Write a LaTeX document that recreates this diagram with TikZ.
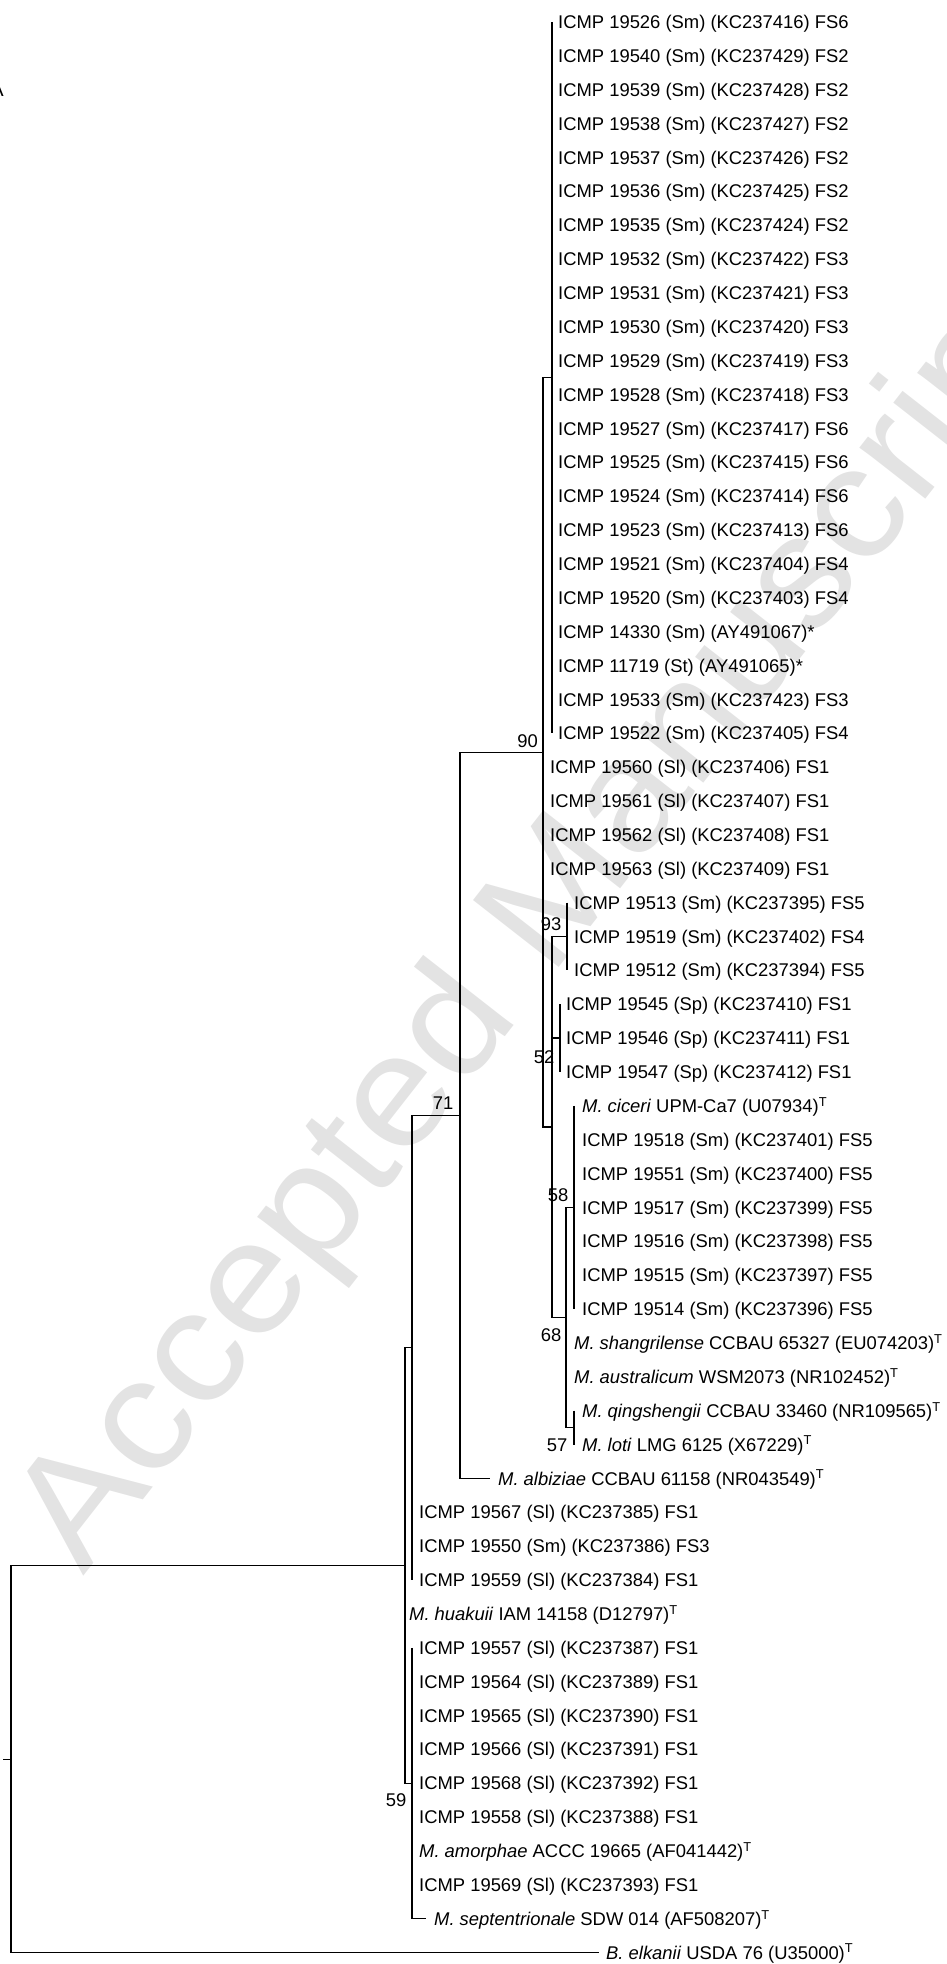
\documentclass[tikz,border=0pt]{standalone}
\usepackage{fontspec}
\setmainfont{Liberation Sans}
\usepackage{tikz}
\newcommand{\lblsize}{\fontsize{18.4}{22}\selectfont}
\newcommand{\spname}[1]{\textit{#1}}
\tikzset{
  leaflabel/.style={anchor=west, inner sep=0pt, text height=13.2pt, text depth=0pt, font=\lblsize},
  bootval/.style={inner sep=0pt, font=\lblsize},
  branchline/.style={black, line width=1.25pt},
}

\begin{document}
\begin{tikzpicture}[x=1pt,y=-33.87pt]
\useasboundingbox (0,0.3505) rectangle (947,58.337);
% watermark
\node[rotate=52, anchor=base west, inner sep=0pt, text=black!11, font=\fontsize{158}{158}\selectfont] (wm) at (83,46.91) {\scalebox{1.08}[1]{Accepted Manuscript}};
\node[anchor=east, inner sep=0pt, font=\fontsize{20}{24}\selectfont] (panel) at (4,3.0) {A};
% tip labels
\node[leaflabel] (l1) at (558,1) {ICMP 19526 (Sm) (KC237416) FS6};
\node[leaflabel] (l2) at (558,2) {ICMP 19540 (Sm) (KC237429) FS2};
\node[leaflabel] (l3) at (558,3) {ICMP 19539 (Sm) (KC237428) FS2};
\node[leaflabel] (l4) at (558,4) {ICMP 19538 (Sm) (KC237427) FS2};
\node[leaflabel] (l5) at (558,5) {ICMP 19537 (Sm) (KC237426) FS2};
\node[leaflabel] (l6) at (558,6) {ICMP 19536 (Sm) (KC237425) FS2};
\node[leaflabel] (l7) at (558,7) {ICMP 19535 (Sm) (KC237424) FS2};
\node[leaflabel] (l8) at (558,8) {ICMP 19532 (Sm) (KC237422) FS3};
\node[leaflabel] (l9) at (558,9) {ICMP 19531 (Sm) (KC237421) FS3};
\node[leaflabel] (l10) at (558,10) {ICMP 19530 (Sm) (KC237420) FS3};
\node[leaflabel] (l11) at (558,11) {ICMP 19529 (Sm) (KC237419) FS3};
\node[leaflabel] (l12) at (558,12) {ICMP 19528 (Sm) (KC237418) FS3};
\node[leaflabel] (l13) at (558,13) {ICMP 19527 (Sm) (KC237417) FS6};
\node[leaflabel] (l14) at (558,14) {ICMP 19525 (Sm) (KC237415) FS6};
\node[leaflabel] (l15) at (558,15) {ICMP 19524 (Sm) (KC237414) FS6};
\node[leaflabel] (l16) at (558,16) {ICMP 19523 (Sm) (KC237413) FS6};
\node[leaflabel] (l17) at (558,17) {ICMP 19521 (Sm) (KC237404) FS4};
\node[leaflabel] (l18) at (558,18) {ICMP 19520 (Sm) (KC237403) FS4};
\node[leaflabel] (l19) at (558,19) {ICMP 14330 (Sm) (AY491067)*};
\node[leaflabel] (l20) at (558,20) {ICMP 11719 (St) (AY491065)*};
\node[leaflabel] (l21) at (558,21) {ICMP 19533 (Sm) (KC237423) FS3};
\node[leaflabel] (l22) at (558,22) {ICMP 19522 (Sm) (KC237405) FS4};
\node[leaflabel] (l23) at (550,23) {ICMP 19560 (Sl) (KC237406) FS1};
\node[leaflabel] (l24) at (550,24) {ICMP 19561 (Sl) (KC237407) FS1};
\node[leaflabel] (l25) at (550,25) {ICMP 19562 (Sl) (KC237408) FS1};
\node[leaflabel] (l26) at (550,26) {ICMP 19563 (Sl) (KC237409) FS1};
\node[leaflabel] (l27) at (574,27) {ICMP 19513 (Sm) (KC237395) FS5};
\node[leaflabel] (l28) at (574,28) {ICMP 19519 (Sm) (KC237402) FS4};
\node[leaflabel] (l29) at (574,29) {ICMP 19512 (Sm) (KC237394) FS5};
\node[leaflabel] (l30) at (566,30) {ICMP 19545 (Sp) (KC237410) FS1};
\node[leaflabel] (l31) at (566,31) {ICMP 19546 (Sp) (KC237411) FS1};
\node[leaflabel] (l32) at (566,32) {ICMP 19547 (Sp) (KC237412) FS1};
\node[leaflabel] (l33) at (582,33) {\spname{M. ciceri} UPM-Ca7 (U07934)\textsuperscript{T}};
\node[leaflabel] (l34) at (582,34) {ICMP 19518 (Sm) (KC237401) FS5};
\node[leaflabel] (l35) at (582,35) {ICMP 19551 (Sm) (KC237400) FS5};
\node[leaflabel] (l36) at (582,36) {ICMP 19517 (Sm) (KC237399) FS5};
\node[leaflabel] (l37) at (582,37) {ICMP 19516 (Sm) (KC237398) FS5};
\node[leaflabel] (l38) at (582,38) {ICMP 19515 (Sm) (KC237397) FS5};
\node[leaflabel] (l39) at (582,39) {ICMP 19514 (Sm) (KC237396) FS5};
\node[leaflabel] (l40) at (574,40) {\spname{M. shangrilense} CCBAU 65327 (EU074203)\textsuperscript{T}};
\node[leaflabel] (l41) at (574,41) {\spname{M. australicum} WSM2073 (NR102452)\textsuperscript{T}};
\node[leaflabel] (l42) at (582,42) {\spname{M. qingshengii} CCBAU 33460 (NR109565)\textsuperscript{T}};
\node[leaflabel] (l43) at (582,43) {\spname{M. loti} LMG 6125 (X67229)\textsuperscript{T}};
\node[leaflabel] (l44) at (498,44) {\spname{M. albiziae} CCBAU 61158 (NR043549)\textsuperscript{T}};
\node[leaflabel] (l45) at (419,45) {ICMP 19567 (Sl) (KC237385) FS1};
\node[leaflabel] (l46) at (419,46) {ICMP 19550 (Sm) (KC237386) FS3};
\node[leaflabel] (l47) at (419,47) {ICMP 19559 (Sl) (KC237384) FS1};
\node[leaflabel] (l48) at (409,48) {\spname{M. huakuii} IAM 14158 (D12797)\textsuperscript{T}};
\node[leaflabel] (l49) at (419,49) {ICMP 19557 (Sl) (KC237387) FS1};
\node[leaflabel] (l50) at (419,50) {ICMP 19564 (Sl) (KC237389) FS1};
\node[leaflabel] (l51) at (419,51) {ICMP 19565 (Sl) (KC237390) FS1};
\node[leaflabel] (l52) at (419,52) {ICMP 19566 (Sl) (KC237391) FS1};
\node[leaflabel] (l53) at (419,53) {ICMP 19568 (Sl) (KC237392) FS1};
\node[leaflabel] (l54) at (419,54) {ICMP 19558 (Sl) (KC237388) FS1};
\node[leaflabel] (l55) at (419,55) {\spname{M. amorphae} ACCC 19665 (AF041442)\textsuperscript{T}};
\node[leaflabel] (l56) at (419,56) {ICMP 19569 (Sl) (KC237393) FS1};
\node[leaflabel] (l57) at (434,57) {\spname{M. septentrionale} SDW 014 (AF508207)\textsuperscript{T}};
\node[leaflabel] (l58) at (606,58) {\spname{B. elkanii} USDA 76 (U35000)\textsuperscript{T}};
% internal nodes
\coordinate (rt) at (11,52.29);
\coordinate (stub) at (3,52.29);
\coordinate (ing) at (405,46.57);
\coordinate (q) at (412,40.14);
\coordinate (n59) at (412,53);
\coordinate (n71) at (460,33.28);
\coordinate (n90) at (543,22.5625);
\coordinate (top) at (552,11.5);
\coordinate (p) at (552,33.625);
\coordinate (n93) at (567,28);
\coordinate (n52) at (560,31);
\coordinate (n68) at (566,39.25);
\coordinate (n58) at (574,36);
\coordinate (n57) at (574,42.5);
\coordinate (alb) at (490,44);
\coordinate (sep) at (426,57);
\coordinate (elk) at (599,58);
% branches
\draw[branchline] (stub) -- (rt);
\draw[branchline] (rt) |- (ing);
\draw[branchline] (rt) |- (elk);
\draw[branchline] (ing) |- (q);
\draw[branchline] (ing) |- (n59);
\draw[branchline] (q) |- (n71);
\draw[branchline] (q) -- (q |- l47.west);
\draw[branchline] (n59 |- l49.west) |- (sep);
\draw[branchline] (n71) |- (n90);
\draw[branchline] (n71) |- (alb);
\draw[branchline] (n90) |- (top);
\draw[branchline] (n90) |- (p);
\draw[branchline] (top |- l1.west) -- (top |- l22.west);
\draw[branchline] (p) |- (n93);
\draw[branchline] (p) |- (n52);
\draw[branchline] (p) |- (n68);
\draw[branchline] (n93 |- l27.west) -- (n93 |- l29.west);
\draw[branchline] (n52 |- l30.west) -- (n52 |- l32.west);
\draw[branchline] (n68) |- (n58);
\draw[branchline] (n68) |- (n57);
\draw[branchline] (n58 |- l33.west) -- (n58 |- l39.west);
\draw[branchline] (n57 |- l42.west) -- (n57 |- l43.west);
% bootstrap values
\node[bootval] (b90) at (527.5,22.23) {90};
\node[bootval] (b71) at (443,32.92) {71};
\node[bootval] (b93) at (551,27.63) {93};
\node[bootval] (b52) at (544,31.56) {52};
\node[bootval] (b58) at (558,35.63) {58};
\node[bootval] (b68) at (551,39.77) {68};
\node[bootval] (b57) at (557,43.01) {57};
\node[bootval] (b59) at (396,53.49) {59};
\end{tikzpicture}
\end{document}
